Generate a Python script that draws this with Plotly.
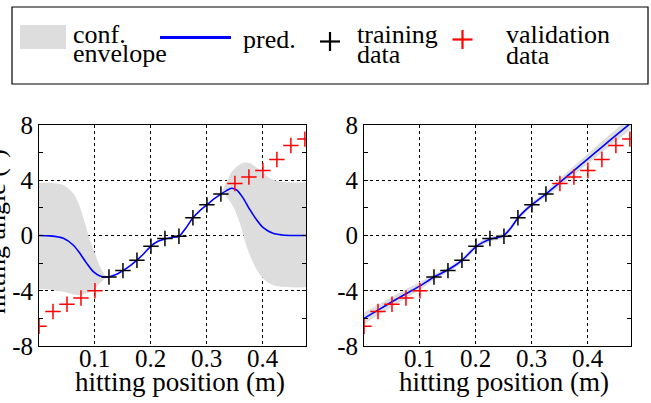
import plotly.graph_objects as go

# ---------------- data ----------------
train_x = [0.125, 0.15, 0.175, 0.2, 0.225, 0.25, 0.275, 0.3, 0.325]
train_y = [-3.0, -2.54, -1.79, -0.77, -0.22, -0.05, 1.28, 2.22, 3.0]

valid_x = [0.0, 0.025, 0.05, 0.075, 0.1, 0.35, 0.375, 0.4, 0.425, 0.45, 0.475]
valid_y = [-6.57, -5.5, -4.98, -4.52, -4.0, 3.77, 4.23, 4.71, 5.5, 6.52, 6.98]

# left panel: prediction (zero prior mean)
predL_x = [0, 0.02, 0.0435, 0.061, 0.073, 0.085, 0.097, 0.109, 0.122, 0.1375, 0.15,
           0.1625, 0.175, 0.1875, 0.2, 0.2125, 0.225, 0.2375, 0.25, 0.2625, 0.275,
           0.2875, 0.3, 0.3125, 0.325, 0.335, 0.344, 0.353, 0.365, 0.377, 0.389,
           0.4, 0.418, 0.435, 0.455, 0.477]
predL_y = [0, -0.03, -0.2, -0.69, -1.29, -2.0, -2.62, -2.93, -3.0, -2.82, -2.54,
           -2.2, -1.79, -1.3, -0.77, -0.42, -0.25, -0.15, -0.05, 0.55, 1.28,
           1.8, 2.22, 2.65, 3.0, 3.25, 3.42, 3.3, 2.69, 1.85, 1.12,
           0.59, 0.16, 0.04, 0.0, 0.0]

# left panel: confidence envelope, low-x region
envA_up_x = [0, 0.02, 0.0435, 0.061, 0.073, 0.082, 0.091, 0.1, 0.109, 0.118, 0.125]
envA_up_y = [3.82, 3.82, 3.66, 3.05, 2.09, 0.88, -0.33, -1.29, -2.26, -2.86, -3.0]
envA_lo_x = [0, 0.02, 0.0435, 0.067, 0.082, 0.097, 0.109, 0.12, 0.125]
envA_lo_y = [-3.88, -3.92, -4.07, -4.31, -4.24, -3.95, -3.46, -3.05, -3.0]

# left panel: confidence envelope, high-x region
envB_up_x = [0.325, 0.335, 0.347, 0.365, 0.377, 0.395, 0.4125, 0.43, 0.45, 0.477]
envB_up_y = [3.0, 3.9, 4.74, 5.27, 5.23, 4.74, 4.14, 3.9, 3.85, 3.85]
envB_lo_x = [0.325, 0.332, 0.347, 0.359, 0.371, 0.383, 0.395, 0.407, 0.424, 0.45, 0.477]
envB_lo_y = [3.0, 2.93, 2.09, 0.88, -0.81, -2.0, -2.86, -3.34, -3.66, -3.75, -3.75]

# right panel: prediction with linear prior mean
predR_x = [0, 0.025, 0.05, 0.075, 0.1, 0.125, 0.1375, 0.15, 0.1625, 0.175, 0.1875,
           0.2, 0.2125, 0.225, 0.2375, 0.25, 0.2625, 0.275, 0.2875, 0.3, 0.3125,
           0.325, 0.35, 0.375, 0.4, 0.425, 0.45, 0.477]
predR_y = [-6.0, -5.4, -4.8, -4.22, -3.65, -3.0, -2.75, -2.48, -2.17, -1.8, -1.3,
           -0.8, -0.5, -0.27, -0.15, 0.0, 0.55, 1.26, 1.8, 2.24, 2.62,
           3.0, 3.85, 4.7, 5.55, 6.4, 7.25, 8.15]
envR_up = [-5.58, -5.02, -4.45, -3.90, -3.37, -2.8, -2.57, -2.30, -1.99, -1.62, -1.12,
           -0.62, -0.32, -0.09, 0.03, 0.18, 0.73, 1.44, 1.98, 2.42, 2.80,
           3.2, 4.13, 5.02, 5.91, 6.8, 7.68, 8.61]
envR_lo = [-6.42, -5.78, -5.15, -4.54, -3.93, -3.2, -2.93, -2.66, -2.35, -1.98, -1.48,
           -0.98, -0.68, -0.45, -0.33, -0.18, 0.37, 1.08, 1.62, 2.06, 2.44,
           2.8, 3.57, 4.38, 5.19, 6.0, 6.82, 7.69]

x_ticks = [0.1, 0.2, 0.3, 0.4]
x_ticktext = ["0.1", "0.2", "0.3", "0.4"]
y_ticks = [-8, -4, 0, 4, 8]
y_ticktext = ["-8", "-4", "0", "4", "8"]

x_title = "hitting position (m)"
y_title = "hitting angle (°)"
legend_labels = [["conf.", "envelope"], ["pred."], ["training", "data"], ["validation", "data"]]

# ---------------- styles ----------------
FONT = "Liberation Serif"
GRAY = "#dddddd"
BLUE = "#0000ff"
RED = "#ff0000"

W, H = 651, 403
ML, MR, MT, MB = 39, 20, 125, 57
PW, PH = W - ML - MR, H - MT - MB


def px(xp):
    return (xp - ML) / PW


def py(yp):
    return 1 - (yp - MT) / PH


fig = go.Figure()


def band(xa, ya, xb, yb, xaxis, yaxis):
    fig.add_trace(go.Scatter(x=xb, y=yb, mode="lines", line=dict(width=0, color=GRAY, shape="spline", smoothing=0.8),
                             xaxis=xaxis, yaxis=yaxis, showlegend=False, hoverinfo="skip"))
    fig.add_trace(go.Scatter(x=xa, y=ya, mode="lines", line=dict(width=0, color=GRAY, shape="spline", smoothing=0.8),
                             fill="tonexty", fillcolor=GRAY,
                             xaxis=xaxis, yaxis=yaxis, showlegend=False, hoverinfo="skip"))


# left panel
band(envA_up_x, envA_up_y, envA_lo_x, envA_lo_y, "x", "y")
band(envB_up_x, envB_up_y, envB_lo_x, envB_lo_y, "x", "y")
fig.add_trace(go.Scatter(x=predL_x, y=predL_y, mode="lines",
                         line=dict(color=BLUE, width=1.6, shape="spline", smoothing=0.8),
                         xaxis="x", yaxis="y", showlegend=False))
fig.add_trace(go.Scatter(x=train_x, y=train_y, mode="markers",
                         marker=dict(symbol="cross-thin", size=11, line=dict(color="black", width=1.5)),
                         xaxis="x", yaxis="y", showlegend=False))
fig.add_trace(go.Scatter(x=valid_x, y=valid_y, mode="markers",
                         marker=dict(symbol="cross-thin", size=11, line=dict(color=RED, width=1.5)),
                         xaxis="x", yaxis="y", showlegend=False))

# right panel
band(predR_x, envR_up, predR_x, envR_lo, "x2", "y2")
fig.add_trace(go.Scatter(x=predR_x, y=predR_y, mode="lines",
                         line=dict(color=BLUE, width=1.6, shape="spline", smoothing=0.8),
                         xaxis="x2", yaxis="y2", showlegend=False))
fig.add_trace(go.Scatter(x=train_x, y=train_y, mode="markers",
                         marker=dict(symbol="cross-thin", size=11, line=dict(color="black", width=1.5)),
                         xaxis="x2", yaxis="y2", showlegend=False))
fig.add_trace(go.Scatter(x=valid_x, y=valid_y, mode="markers",
                         marker=dict(symbol="cross-thin", size=11, line=dict(color=RED, width=1.5)),
                         xaxis="x2", yaxis="y2", showlegend=False))

xd1 = [0, px(306)]
xd2 = [px(364), 1]

axis_common = dict(showline=True, linecolor="black", linewidth=1, mirror="ticks",
                   showgrid=True, gridcolor="black", griddash="dot", gridwidth=1,
                   zeroline=False, tickfont=dict(family=FONT, size=25, color="black"))
xaxis_style = dict(axis_common, range=[0, 0.477], tickmode="array", tickvals=x_ticks,
                   ticktext=x_ticktext, ticks="", showticklabels=False)
yaxis_style = dict(axis_common, range=[-8, 8], tickmode="array", tickvals=y_ticks,
                   ticktext=y_ticktext, ticks="inside", ticklen=4, tickcolor="black",
                   minor=dict(tickvals=[-6, -2, 2, 6], ticks="inside", ticklen=4,
                              tickcolor="black", showgrid=False))

fig.update_layout(
    width=W, height=H,
    margin=dict(l=ML, r=MR, t=MT, b=MB),
    paper_bgcolor="white", plot_bgcolor="white",
    font=dict(family=FONT, color="black"),
    xaxis=dict(xaxis_style, domain=xd1, anchor="y"),
    yaxis=dict(yaxis_style, domain=[0, 1], anchor="x"),
    xaxis2=dict(xaxis_style, domain=xd2, anchor="y2"),
    yaxis2=dict(yaxis_style, domain=[0, 1], anchor="x2"),
    showlegend=False,
)

ann = []
# x tick labels (placed at the axis' own tick values)
for xref in ("x", "x2"):
    for v, t in zip(x_ticks, x_ticktext):
        ann.append(dict(text=t, x=v, y=py(358.5), xref=xref, yref="paper",
                        xanchor="center", yanchor="middle", showarrow=False,
                        font=dict(family=FONT, size=25, color="black")))
# axis titles
for xc in (180, 503.5):
    ann.append(dict(text=x_title, x=px(xc), y=py(381.5), xref="paper", yref="paper",
                    xanchor="center", yanchor="middle", showarrow=False,
                    font=dict(family=FONT, size=27, color="black")))
ann.append(dict(text=y_title, x=px(-4), y=py(232), xref="paper", yref="paper",
                xanchor="center", yanchor="middle", showarrow=False, textangle=-90,
                font=dict(family=FONT, size=26, color="black")))

# legend texts
leg_font = dict(family=FONT, size=26, color="black")
legend_text_pos = [
    [(71, 34), (71, 53)],
    [(241, 39)],
    [(355, 34), (355, 54)],
    [(504, 34), (504, 55)],
]
for labels, poss in zip(legend_labels, legend_text_pos):
    for t, (xl, yc) in zip(labels, poss):
        ann.append(dict(text=t, x=px(xl), y=py(yc), xref="paper", yref="paper",
                        xanchor="left", yanchor="middle", showarrow=False, font=leg_font))
fig.update_layout(annotations=ann)

shapes = []
# legend frame
shapes.append(dict(type="rect", xref="paper", yref="paper", x0=px(12), x1=px(648), y0=py(7), y1=py(84),
                   line=dict(color="black", width=1.2), fillcolor="rgba(0,0,0,0)"))
# swatch
shapes.append(dict(type="rect", xref="paper", yref="paper", x0=px(20), x1=px(66), y0=py(25), y1=py(49),
                   line=dict(width=0), fillcolor=GRAY))
# pred line
shapes.append(dict(type="line", xref="paper", yref="paper", x0=px(160), x1=px(231), y0=py(37.5), y1=py(37.5),
                   line=dict(color=BLUE, width=3)))
# plus signs
for (cx, cy, col) in [(330, 41.5, "black"), (462.5, 39.5, RED)]:
    shapes.append(dict(type="line", xref="paper", yref="paper", x0=px(cx - 10), x1=px(cx + 10), y0=py(cy), y1=py(cy),
                       line=dict(color=col, width=2.2)))
    shapes.append(dict(type="line", xref="paper", yref="paper", x0=px(cx), x1=px(cx), y0=py(cy - 9.5), y1=py(cy + 9.5),
                       line=dict(color=col, width=2.2)))
fig.update_layout(shapes=shapes)

fig.write_html("out.html")
